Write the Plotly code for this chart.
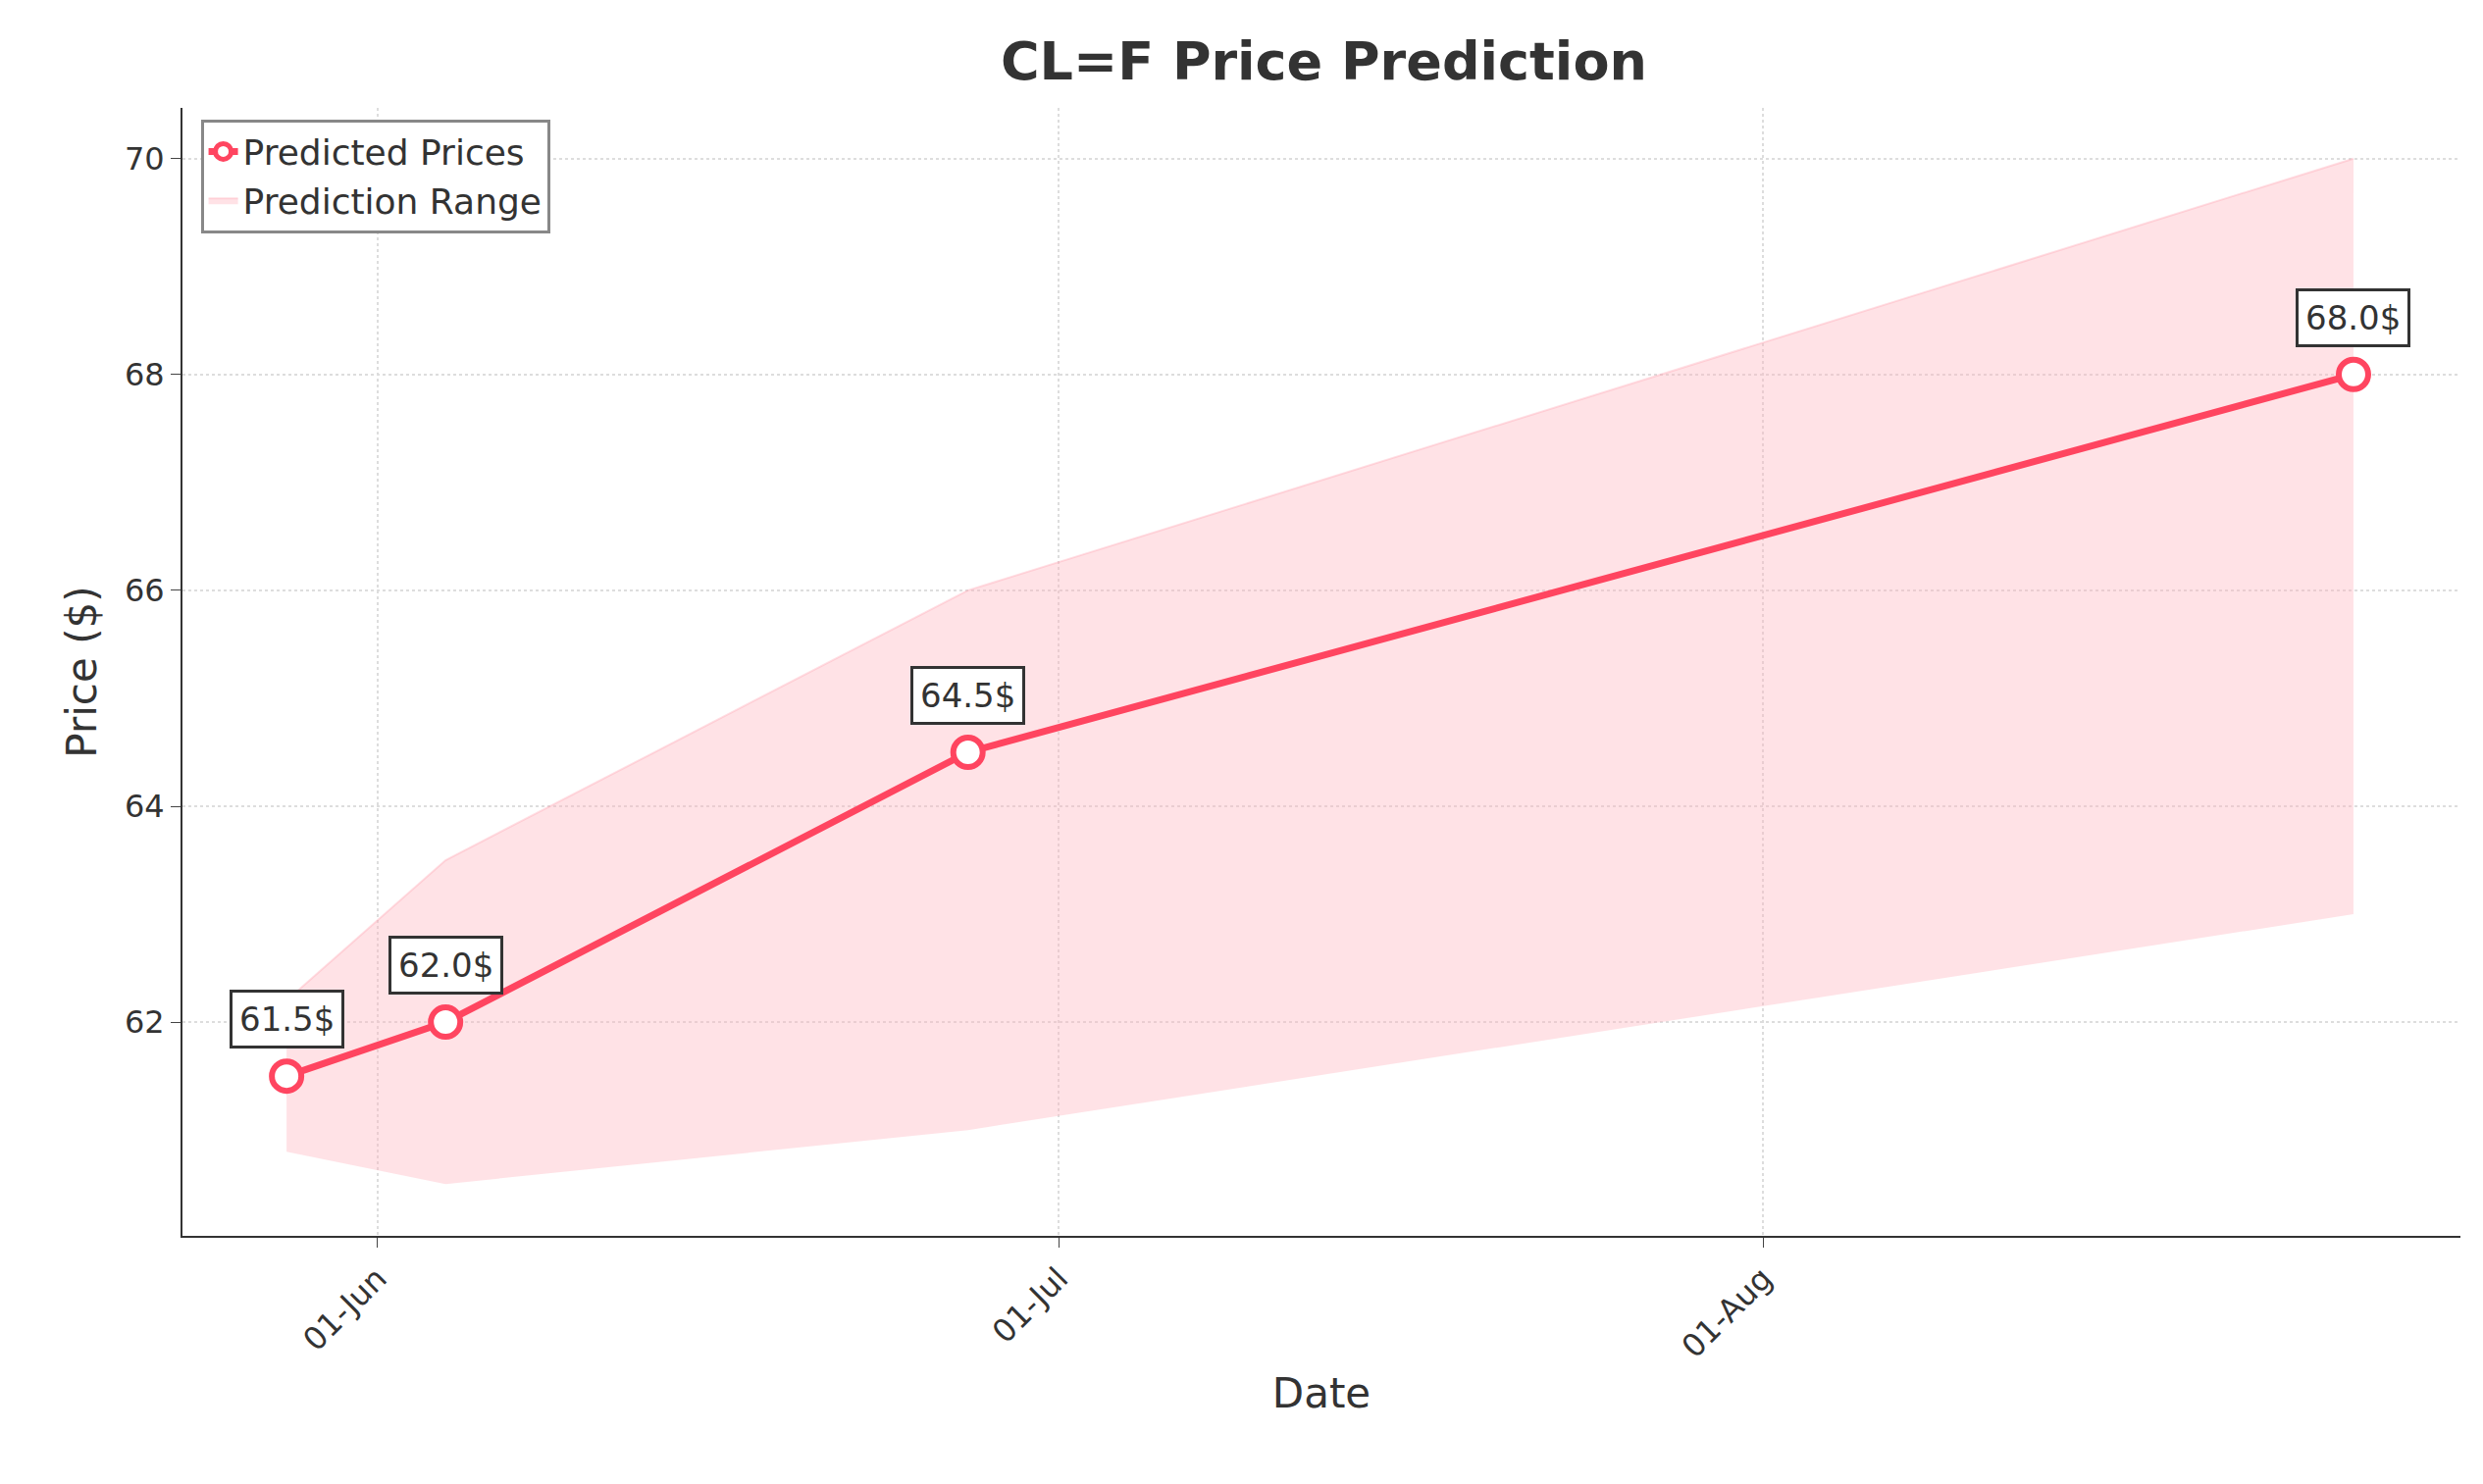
import plotly.graph_objects as go

dates = ["2025-05-28", "2025-06-04", "2025-06-27", "2025-08-27"]
predicted = [61.5, 62.0, 64.5, 68.0]
lower = [60.8, 60.5, 61.0, 63.0]
upper = [62.2, 63.5, 66.0, 70.0]
tick_dates = ["2025-06-01", "2025-07-01", "2025-08-01"]
tick_labels = ["01-Jun", "01-Jul", "01-Aug"]

RED = "#ff4560"
FONT = "DejaVu Sans"

fig = go.Figure()
fig.add_scatter(x=dates, y=lower, mode="lines", line=dict(width=0), showlegend=False, hoverinfo="skip")
fig.add_scatter(x=dates, y=upper, mode="lines", fill="tonexty",
                fillcolor="rgba(255,182,193,0.4)", line=dict(color="rgba(255,160,175,0.35)", width=2),
                name="Prediction Range")
fig.add_scatter(x=dates, y=predicted, mode="lines+markers", name="Predicted Prices",
                line=dict(color=RED, width=7),
                marker=dict(size=30, color="white", line=dict(color=RED, width=6)))

for d, p in zip(dates, predicted):
    fig.add_annotation(x=d, y=p, text=f"{p:.1f}$", showarrow=False, yshift=58,
                       font=dict(size=34, color="#333333", family=FONT),
                       bgcolor="white", bordercolor="#333333", borderwidth=3, borderpad=7)

fig.update_layout(
    width=2531, height=1513, plot_bgcolor="white", paper_bgcolor="white",
    font=dict(family=FONT, size=34, color="#333333"),
    margin=dict(l=178, r=31, t=102, b=261),
    title=dict(text="<b>CL=F Price Prediction</b>", x=0.53, xanchor="center", y=0.977,
               font=dict(size=54, color="#333333")),
    legend=dict(x=0.008, y=0.99, xanchor="left", yanchor="top", bordercolor="#888888",
                borderwidth=3, bgcolor="white", font=dict(size=36)),
)
fig.update_xaxes(range=["2025-05-23 10:00", "2025-08-31 17:00"], tickvals=tick_dates, ticktext=tick_labels,
                 tickangle=-45, showgrid=True, gridcolor="#dddddd", griddash="dot", gridwidth=2,
                 showline=True, linecolor="#333333", linewidth=2, ticks="outside", ticklen=10,
                 title=dict(text="Date", font=dict(size=42)), tickfont=dict(size=32))
fig.update_yaxes(range=[60.02, 70.47], tickvals=[62, 64, 66, 68, 70], showgrid=True, gridcolor="#dddddd",
                 griddash="dot", gridwidth=2, showline=True, linecolor="#333333", linewidth=2,
                 ticks="outside", ticklen=10, zeroline=False,
                 title=dict(text="Price ($)", font=dict(size=42)), tickfont=dict(size=32))

fig.write_html("out.html")
